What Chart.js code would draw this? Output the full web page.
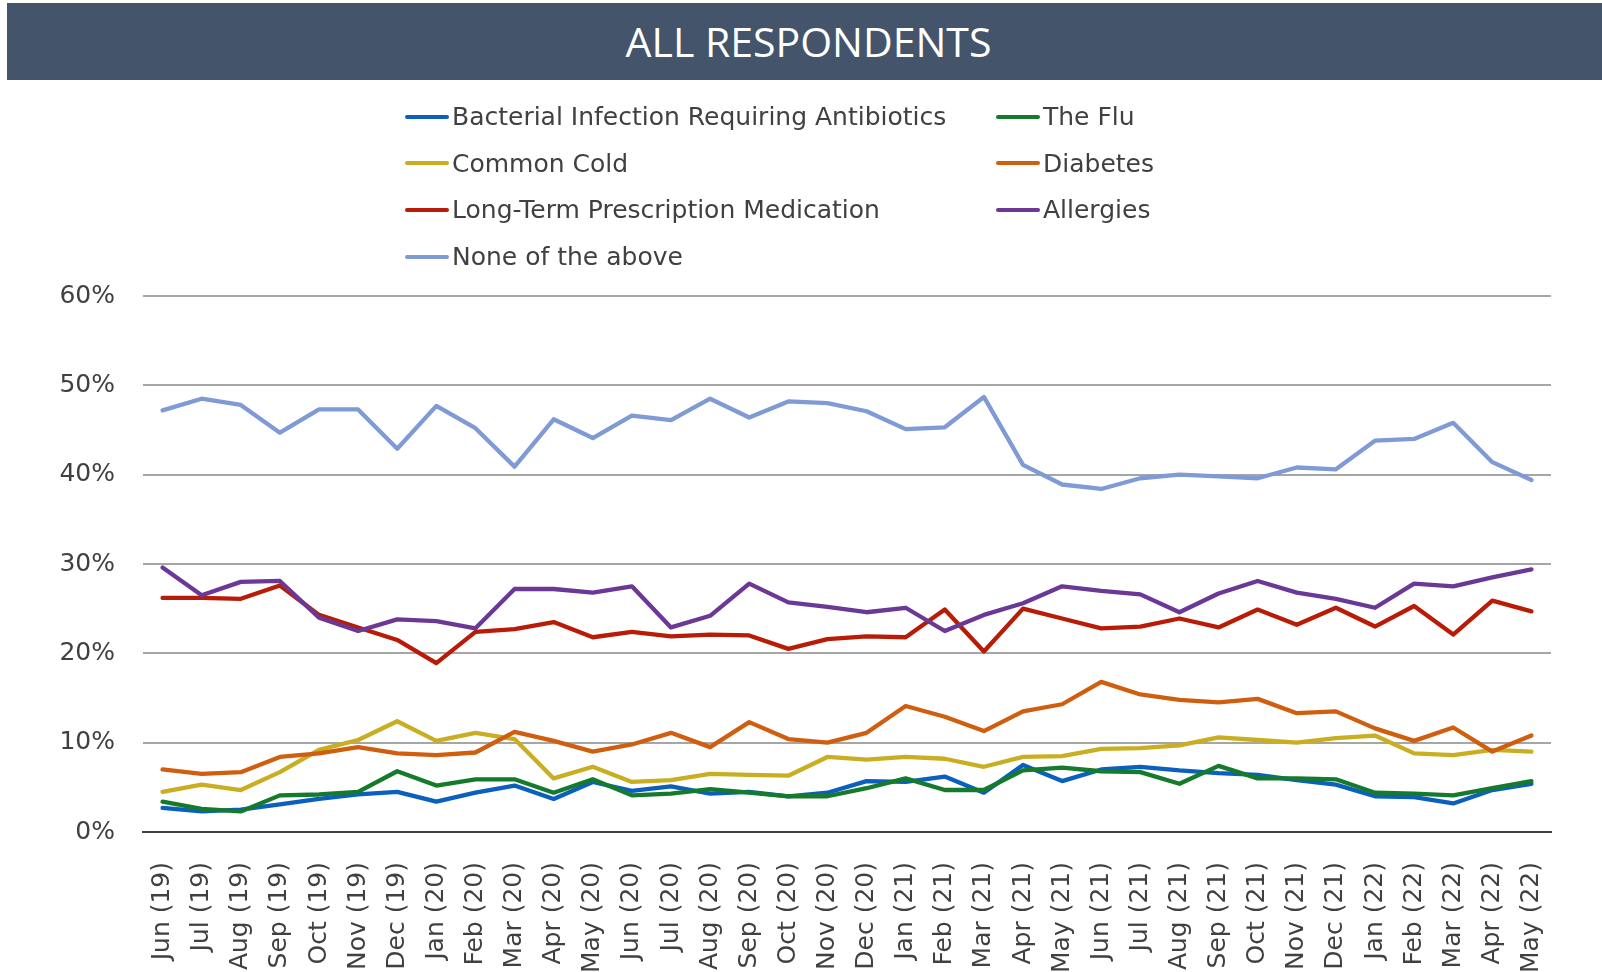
<!DOCTYPE html>
<html>
<head>
<meta charset="utf-8">
<script src="https://cdn.jsdelivr.net/npm/chart.js@4.4.1/dist/chart.umd.min.js"></script>
<style>
html,body{margin:0;padding:0;background:#fff;}
#wrap{position:relative;width:1602px;height:972px;overflow:hidden;background:#fff;}
#title{position:absolute;left:7px;top:3px;width:1595px;height:77px;box-sizing:border-box;padding-left:8px;background:#44546A;color:#fff;font-family:"Open Sans",sans-serif;font-size:41px;line-height:77px;text-align:center;z-index:2;}
.li{position:absolute;display:flex;align-items:center;height:40px;font-family:"DejaVu Sans",sans-serif;font-size:25px;color:#404040;white-space:nowrap;z-index:2;}
.li .m{display:inline-block;width:44px;height:4px;border-radius:2px;margin-right:3px;}
canvas{position:absolute;left:0;top:0;}
</style>
</head>
<body>
<div id="wrap">
  <div id="title">ALL RESPONDENTS</div>
  <div id="legend"></div>
  <canvas id="c" width="1602" height="972"></canvas>
</div>
<script>
const labels = ["Jun (19)","Jul (19)","Aug (19)","Sep (19)","Oct (19)","Nov (19)","Dec (19)","Jan (20)","Feb (20)","Mar (20)","Apr (20)","May (20)","Jun (20)","Jul (20)","Aug (20)","Sep (20)","Oct (20)","Nov (20)","Dec (20)","Jan (21)","Feb (21)","Mar (21)","Apr (21)","May (21)","Jun (21)","Jul (21)","Aug (21)","Sep (21)","Oct (21)","Nov (21)","Dec (21)","Jan (22)","Feb (22)","Mar (22)","Apr (22)","May (22)"];

const seriesNames = ["Bacterial Infection Requiring Antibiotics","The Flu","Common Cold","Diabetes","Long-Term Prescription Medication","Allergies","None of the above"];

const bacterial = [2.7,2.3,2.5,3.1,3.7,4.2,4.5,3.4,4.4,5.2,3.7,5.6,4.6,5.1,4.3,4.5,4.0,4.4,5.7,5.6,6.2,4.4,7.5,5.7,7.0,7.3,6.9,6.6,6.4,5.8,5.3,4.0,3.9,3.2,4.7,5.4];
const flu = [3.4,2.6,2.3,4.1,4.2,4.5,6.8,5.2,5.9,5.9,4.4,5.9,4.1,4.3,4.8,4.4,4.0,4.0,4.9,6.0,4.7,4.7,6.9,7.2,6.8,6.7,5.4,7.4,6.0,6.0,5.9,4.4,4.3,4.1,4.9,5.7];
const commonCold = [4.5,5.3,4.7,6.7,9.2,10.3,12.4,10.2,11.1,10.4,6.0,7.3,5.6,5.8,6.5,6.4,6.3,8.4,8.1,8.4,8.2,7.3,8.4,8.5,9.3,9.4,9.7,10.6,10.3,10.0,10.5,10.8,8.8,8.6,9.2,9.0];
const diabetes = [7.0,6.5,6.7,8.4,8.8,9.5,8.8,8.6,8.9,11.2,10.2,9.0,9.8,11.1,9.5,12.3,10.4,10.0,11.1,14.1,12.9,11.3,13.5,14.3,16.8,15.4,14.8,14.5,14.9,13.3,13.5,11.6,10.2,11.7,9.0,10.8];
const longTerm = [26.2,26.2,26.1,27.6,24.3,22.9,21.5,18.9,22.4,22.7,23.5,21.8,22.4,21.9,22.1,22.0,20.5,21.6,21.9,21.8,24.9,20.2,25.0,23.9,22.8,23.0,23.9,22.9,24.9,23.2,25.1,23.0,25.3,22.1,25.9,24.7];
const allergies = [29.6,26.5,28.0,28.1,24.0,22.5,23.8,23.6,22.8,27.2,27.2,26.8,27.5,22.9,24.2,27.8,25.7,25.2,24.6,25.1,22.5,24.3,25.6,27.5,27.0,26.6,24.6,26.7,28.1,26.8,26.1,25.1,27.8,27.5,28.5,29.4];
const noneAbove = [47.2,48.5,47.8,44.7,47.3,47.3,42.9,47.7,45.2,40.9,46.2,44.1,46.6,46.1,48.5,46.4,48.2,48.0,47.1,45.1,45.3,48.7,41.1,38.9,38.4,39.6,40.0,39.8,39.6,40.8,40.6,43.8,44.0,45.8,41.4,39.4];

const yTicks = [0,10,20,30,40,50,60];

const colors = ["#0A60BC","#157A2C","#C9AE22","#CF5F0F","#B81C06","#6B3896","#7F9AD5"];
const allValues = [bacterial, flu, commonCold, diabetes, longTerm, allergies, noneAbove];

const datasets = seriesNames.map((n,i)=>({
  label:n, data:allValues[i], borderColor:colors[i], backgroundColor:colors[i],
  order: seriesNames.length - i, fill:false
}));

// HTML legend, two columns, row-major
const leg = document.getElementById('legend');
datasets.forEach((d,i)=>{
  const col = i % 2, row = Math.floor(i/2);
  const el = document.createElement('div');
  el.className = 'li';
  el.style.left = (col ? 996 : 405) + 'px';
  el.style.top = (116.5 + row*46.7 - 20) + 'px';
  el.innerHTML = '<span class="m" style="background:'+d.borderColor+'"></span><span></span>';
  el.lastChild.textContent = d.label;
  leg.appendChild(el);
});

const ctx = document.getElementById('c').getContext('2d');
new Chart(ctx, {
  type:'line',
  data:{labels, datasets},
  options:{
    responsive:false, animation:false, devicePixelRatio:1,
    layout:{padding:{top:296,right:51,bottom:0,left:0}},
    plugins:{legend:{display:false},title:{display:false},tooltip:{enabled:false}},
    elements:{point:{radius:0,hoverRadius:0},line:{borderWidth:4.3,tension:0,borderCapStyle:'round',borderJoinStyle:'round'}},
    scales:{
      x:{type:'category',offset:true,
         grid:{display:false,drawTicks:false},
         border:{display:true,color:'#404040',width:2},
         ticks:{autoSkip:false,minRotation:90,maxRotation:90,padding:30,color:'#404040',font:{family:'DejaVu Sans',size:25}},
         afterFit(s){s.height=140;}},
      y:{min:yTicks[0],max:yTicks[yTicks.length-1],
         grid:{color:'#A6A6A6',lineWidth:2,drawTicks:false},
         border:{display:false},
         afterBuildTicks(s){s.ticks = yTicks.map(v=>({value:v}));},
         ticks:{padding:28,color:'#404040',font:{family:'DejaVu Sans',size:25},callback:v=>v+'%'},
         afterFit(s){s.width=143;}}
    }
  }
});
</script>
</body>
</html>
